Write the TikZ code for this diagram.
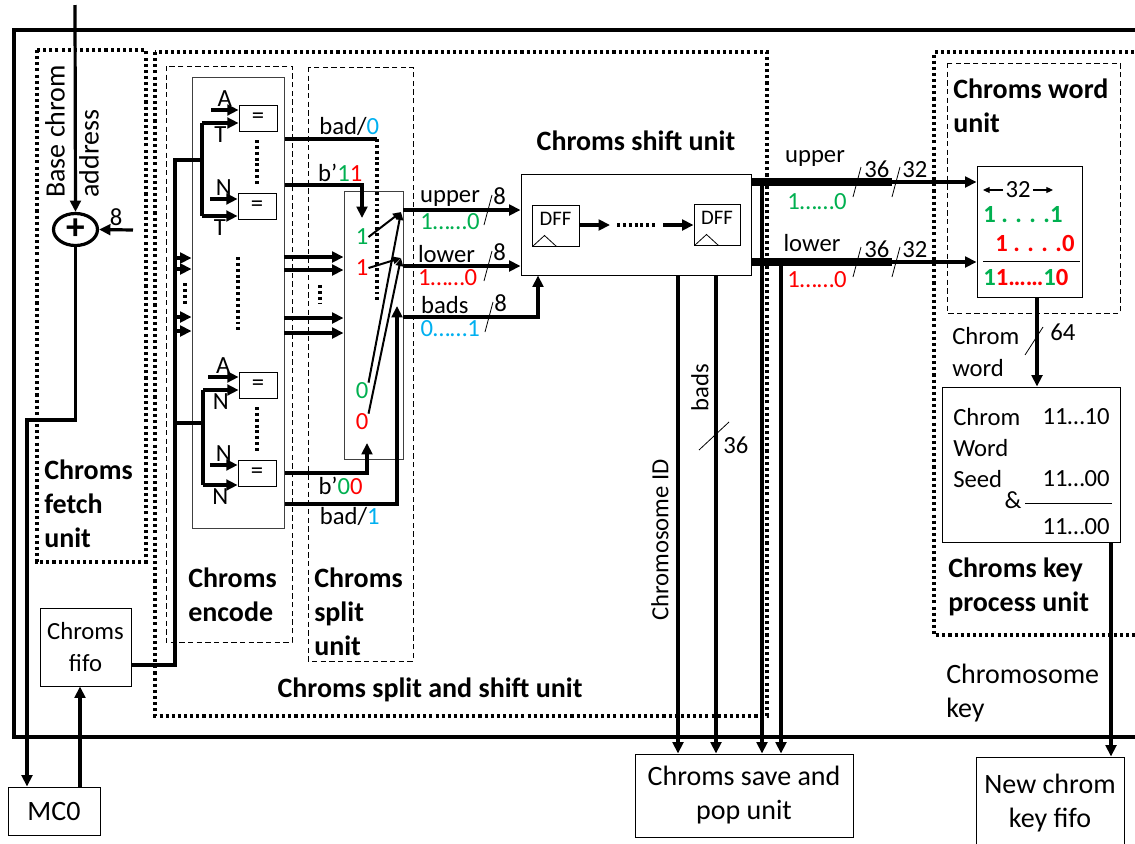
\documentclass[tikz,border=0pt]{standalone}
\usepackage{fontspec}
\setmainfont{Carlito}
\usetikzlibrary{arrows.meta,positioning,fit,calc,shapes.geometric}

\definecolor{bitgreen}{RGB}{0,176,80}
\definecolor{bitred}{RGB}{255,0,0}
\definecolor{bitblue}{RGB}{0,176,240}
\newcommand{\fbig}{\fontsize{21}{25.5}\selectfont}
\newcommand{\fmid}{\fontsize{18.5}{23.5}\selectfont}
\newcommand{\fsml}{\fontsize{15.5}{18}\selectfont}
\newcommand{\gb}[1]{\textcolor{bitgreen}{#1}}
\newcommand{\rb}[1]{\textcolor{bitred}{#1}}
\newcommand{\bb}[1]{\textcolor{bitblue}{#1}}

\tikzset{
  wire/.style={line width=2.4pt},
  arr/.style={line width=2.4pt,-{Triangle[length=8.5pt,width=8pt]}},
  arrs/.style={line width=1.5pt,-{Triangle[length=6pt,width=5.5pt]}},
  tarr/.style={line width=0.8pt,-{Triangle[length=5pt,width=4.5pt]}},
  bus/.style={line width=6pt},
  dotbox/.style={line width=2.4pt,dash pattern=on 2.3pt off 2.3pt},
  dotline/.style={line width=2.4pt,dash pattern=on 2.2pt off 2.2pt},
  dashbox/.style={line width=0.6pt,dash pattern=on 4pt off 2.5pt},
  blk/.style={inner sep=0pt,draw,line width=0.75pt},
  cmp/.style={draw,line width=0.6pt,inner sep=0pt,minimum width=28.5pt,minimum height=19.5pt,font=\fmid},
  txt/.style={inner sep=0pt,font=\fmid,align=left},
  btxt/.style={inner sep=0pt,font=\fbig,align=center},
  lab/.style={inner sep=1.5pt,font=\fmid},
  ttl/.style={inner sep=0pt,font=\fbig\bfseries,align=left},
  wsl/.pic={\draw[line width=0.6pt] (-4,15) -- (4,-15);},
  wslh/.pic={\draw[line width=0.6pt] (-15,14) -- (15,-14);},
  wslv/.pic={\draw[line width=0.6pt] (-9,14) -- (9,-14);}
}

\begin{document}
\begin{tikzpicture}[x=0.75pt,y=-0.75pt]
\useasboundingbox (0,0) rectangle (1135,843);
\clip (0,0) rectangle (1135,843);
\fill[white] (0,0) rectangle (1135,843);

% frame and unit borders
\draw[wire] (1140,30) -- (14,30) -- (14,737) -- (1140,737);
\draw[dotbox] (37,50) rectangle (146,562);
\draw[dotbox] (155,52) rectangle (767,716);
\draw[dotbox] (1140,52) -- (934,52) -- (934,635) -- (1140,635);
\draw[dashbox] (166,66) rectangle (292,642);
\draw[dashbox] (308,67) rectangle (413,661);
\draw[dashbox] (947,63) rectangle (1120,313);

% unit titles
\node[ttl,anchor=west] (tfetch) at (44,504) {Chroms\\fetch\\unit};
\node[ttl,anchor=west] (tenc) at (188,595) {Chroms\\encode};
\node[ttl,anchor=west] (tsplit) at (314,612) {Chroms\\split\\unit};
\node[ttl] (tss) at (430,690) {Chroms split and shift unit};
\node[ttl] (tshift) at (636,141) {Chroms shift unit};
\node[ttl,anchor=west] (tword) at (953,106) {Chroms word\\unit};
\node[ttl,anchor=west] (tkey) at (948,587) {Chroms key\\process unit};

% fetch unit
\node[draw,ellipse,line width=2.4pt,inner sep=0pt,minimum width=33pt,minimum height=24pt,font=\fontsize{28}{28}\selectfont\bfseries] (add) at (75.5,229.5) {+};
\node[inner sep=0pt,font=\fbig,align=left,rotate=90,anchor=north west] (tbase) at (45,198) {Base chrom\\address};
\node[blk,fit={(40,608)(131,686)}] (fifo) {};
\node[btxt,font=\fmid] (fifot) at (fifo.center) {Chroms\\fifo};
\node[blk,fit={(8,787)(100,835)}] (mc0) {};
\node[btxt] (mc0t) at (mc0.center) {MC0};

\coordinate (tin) at (75,5);
\coordinate (in8) at (133,230);
\coordinate (mcd) at (27,420);
\coordinate (mcu) at (80,787);
\draw[arr] (tin) -- (add.north);
\draw[arr] (in8) -- node[lab,above] (l8) {8} (add.east);
\draw[arr] (add.south) |- (mcd) -- (mcd |- mc0.north);
\draw[arr] (mcu) -- (mcu |- fifo.south);

% encode unit
\node[blk,fit={(192,77)(284,528)},draw=black!75] (enc) {};
\node[cmp] (c1) at (258,118.5) {=};
\node[cmp] (c2) at (257,206) {=};
\node[cmp] (c3) at (258,385) {=};
\node[cmp] (c4) at (257,473) {=};
\draw[dotline] (257,140) -- (257,185);
\draw[dotline] (238,257) -- (238,332);
\draw[dotline] (257,407) -- (257,452);

\coordinate (busT) at (175,160);
\coordinate (busB) at (175,665);
\coordinate (busM) at (175,423);
\coordinate (j1) at (202,123);
\coordinate (j2) at (202,216);
\coordinate (j3) at (203,390);
\coordinate (j4) at (203,485);
\coordinate (a1) at (211,110);
\coordinate (a2) at (210,199);
\coordinate (a3) at (208,377);
\coordinate (a4) at (210,465);
\draw[wire] (busB -| fifo.east) -- (busB) -- (busT) -- (busT -| j1);
\draw[wire] (j1) -- (j2);
\draw[wire] (busM) -- (busM -| j3);
\draw[wire] (j3) -- (j4);
\draw[arr] (a1) -- node[lab,above] (la1) {A} (a1 -| c1.west);
\draw[arr] (j1) -- node[lab,below] (lt1) {T} (j1 -| c1.west);
\draw[arr] (a2) -- node[lab,above] (la2) {N} (a2 -| c2.west);
\draw[arr] (j2) -- node[lab,below] (lt2) {T} (j2 -| c2.west);
\draw[arr] (a3) -- node[lab,above] (la3) {A} (a3 -| c3.west);
\draw[arr] (j3) -- node[lab,below] (lt3) {N} (j3 -| c3.west);
\draw[arr] (a4) -- node[lab,above] (la4) {N} (a4 -| c4.west);
\draw[arr] (j4) -- node[lab,below] (lt4) {N} (j4 -| c4.west);
\foreach \y in {258,269,317,331}{
  \coordinate (bi) at (175,\y);
  \draw[arr] (bi) -- (bi -| enc.west);
}
\draw[dotline] (185,283) -- (185,305);

% split unit
\node[blk,fit={(344,191)(403,459)},draw=black!75] (spl) {};
\node[txt,text=bitgreen] (g1) at (362,237) {1};
\node[txt,text=bitred] (r1) at (362,268) {1};
\node[txt,text=bitgreen] (g0) at (362,391) {0};
\node[txt,text=bitred] (r0) at (362,422) {0};

\coordinate (bad0) at (377,139);
\coordinate (bad0e) at (377,303);
\coordinate (b11) at (362,185);
\coordinate (b11e) at (362,218);
\coordinate (b00) at (367,473);
\coordinate (b00e) at (367,443);
\coordinate (bad1) at (397,504);
\coordinate (bad1e) at (397,306);
\draw[wire] (bad0 -| enc.east) -- node[lab,above,pos=0.7] (lbad0) {bad/\bb{0}} (bad0);
\draw[dotline] (bad0) -- (bad0e);
\draw[arr] (b11 -| enc.east) -- node[lab,above,pos=0.72] (lb11) {b’\gb{1}\rb{1}} (b11) -- (b11e);
\foreach \y in {257,270,318,333}{
  \coordinate (si) at (284,\y);
  \draw[arr] (si) -- (si -| spl.west);
}
\draw[dotline] (320,285) -- (320,303);
\draw[arr] (b00 -| enc.east) -- node[lab,below,pos=0.68] (lb00) {b’\gb{0}\rb{0}} (b00) -- (b00e);
\draw[arr] (bad1 -| enc.east) -- node[lab,below,pos=0.58] (lbad1) {bad/\bb{1}} (bad1) -- (bad1e);

\coordinate (pu) at (401,212);
\coordinate (pl) at (401,258);
\draw[arrs] (g1.east) -- (pu);
\draw[arrs] (r1.east) -- (pl);
\draw[arrs] (g0.north east) -- (pu);
\draw[arrs] (r0.north east) -- (pl);

% shift unit
\node[blk,fit={(521,174)(751,275)}] (shf) {};
\node[blk,fit={(532,205)(579,246)}] (dff1) {};
\node[blk,fit={(694,204)(740,245)}] (dff2) {};
\node[txt,font=\fsml,anchor=north] (ldff1) at ($(dff1.north)+(0,7)$) {DFF};
\node[txt,font=\fsml,anchor=north] (ldff2) at ($(dff2.north)+(0,7)$) {DFF};
\draw[line width=0.6pt] ($(dff1.south west)+(1,0)$) -- ++(12,-11) -- ++(12,11);
\draw[line width=0.6pt] ($(dff2.south west)+(1,0)$) -- ++(12,-11) -- ++(12,11);
\coordinate (dA) at (610,225);
\coordinate (dB) at (663,225);
\draw[arr] (dff1.east |- dA) -- (dA);
\draw[dotline] (617,225) -- (658,225);
\draw[arr] (dB) -- (dB -| dff2.west);

\coordinate (upS) at (403,210);
\coordinate (loS) at (403,266);
\coordinate (bdS) at (403,317);
\coordinate (bdE) at (538,317);
\draw[arr] (upS) -- node[lab,above,pos=0.4] (lup) {upper}
  node[lab,below,pos=0.4,text=bitgreen] (lupb) {1……0} (upS -| shf.west);
\draw[arr] (loS) -- node[lab,above,pos=0.37] (llo) {lower}
  node[lab,below,pos=0.38,text=bitred] (llob) {1……0} (loS -| shf.west);
\draw[arr] (bdS) -- node[lab,above,pos=0.31] (lbd) {bads}
  node[lab,below,pos=0.35,text=bitblue] (lbdb) {0……1} (bdE) -- (bdE |- shf.south);
\pic at (488,210) {wsl};
\pic at (488,266) {wsl};
\pic at (489,317) {wsl};
\node[txt,anchor=south west] (w8a) at (493,205) {8};
\node[txt,anchor=south west] (w8b) at (493,261) {8};
\node[txt,anchor=south west] (w8c) at (494,312) {8};

% outputs of the shift unit
\node[blk,fit={(635,754)(853,837)}] (spu) {};
\node[btxt] (sput) at (spu.center) {Chroms save and\\pop unit};
\coordinate (ub) at (892,182);
\coordinate (lb) at (892,262);
\draw[bus] (shf.east |- ub) -- (ub);
\draw[bus] (shf.east |- lb) -- (lb);
\node[blk,fit={(977,166)(1082,297)}] (wrd) {};
\draw[arr] (ub) -- (ub -| wrd.west);
\draw[arr] (lb) -- (lb -| wrd.west);
\node[lab] (lu2) at (815,158) {upper};
\node[txt,text=bitgreen] (lu2b) at (817,202) {1……0};
\node[lab] (ll2) at (812,243) {lower};
\node[txt,text=bitred] (ll2b) at (817,280) {1……0};
\pic at (857,182) {wsl};
\pic at (896,182) {wsl};
\pic at (857,262) {wsl};
\pic at (896,262) {wsl};
\node[txt,anchor=south west] (w36a) at (864,178) {36};
\node[txt,anchor=south west] (w32a) at (902,178) {32};
\node[txt,anchor=south west] (w36b) at (864,258) {36};
\node[txt,anchor=south west] (w32b) at (902,258) {32};

\coordinate (vu) at (762,182);
\coordinate (vl) at (781,262);
\coordinate (vid) at (678,275);
\coordinate (vbd) at (716,275);
\draw[arr] (vu) -- (vu |- spu.north);
\draw[arr] (vl) -- (vl |- spu.north);
\draw[arr] (vid) -- (vid |- spu.north);
\draw[arr] (vbd) -- (vbd |- spu.north);
\node[txt,rotate=90] (lcid) at (660,540) {Chromosome ID};
\node[txt,rotate=90] (lbads) at (700,388) {bads};
\pic at (714,436) {wslh};
\node[txt,anchor=west] (w36c) at (723,445) {36};

% chroms word unit
\node[lab] (w32) at (1018,190) {32};
\coordinate (wl) at (983,190);
\coordinate (wr) at (1053,190);
\draw[tarr] (w32.west) -- (wl);
\draw[tarr] (w32.east) -- (wr);
\node[txt,font=\fmid\bfseries,anchor=west,text=bitgreen] (wup) at (983,215) {1 . . . .1};
\node[txt,font=\fmid\bfseries,anchor=west,text=bitred] (wlo) at (995,243) {1 . . . .0};
\draw[line width=0.75pt] (983,261) -- (1080,261);
\node[txt,font=\fmid\bfseries,anchor=west] (wsum) at (983,277) {\gb{1}\rb{1}\rb{……}\gb{1}\rb{0}};

% chroms key process unit
\node[blk,fit={(942,387)(1120,542)}] (key) {};
\coordinate (wk) at (1037,297);
\draw[arr] (wk) -- (wk |- key.north);
\pic at (1034,341) {wslv};
\node[txt,anchor=west] (w64) at (1050,332) {64};
\node[txt,anchor=west] (lcw) at (952,352) {Chrom\\word};
\node[txt,anchor=west] (kc) at (953,417) {Chrom};
\node[txt,anchor=east] (kcv) at (1110,417) {11…10};
\node[txt,anchor=west] (kw) at (953,448) {Word};
\node[txt,anchor=west] (ks) at (953,479) {Seed};
\node[txt,anchor=east] (ksv) at (1110,479) {11…00};
\node[txt] (kamp) at (1013,500) {\&};
\draw[line width=0.75pt] (1025,503) -- (1112,503);
\node[txt,anchor=east] (kr) at (1110,527) {11…00};

\node[blk,fit={(976,757)(1124,850)}] (kfifo) {};
\node[btxt] (kfifot) at (kfifo.center) {New chrom\\key fifo};
\coordinate (kf) at (1111,542);
\draw[arr] (kf) -- (kf |- kfifo.north);
\node[txt,anchor=west,font=\fbig] (lck) at (946,693) {Chromosome\\key};
\end{tikzpicture}
\end{document}
